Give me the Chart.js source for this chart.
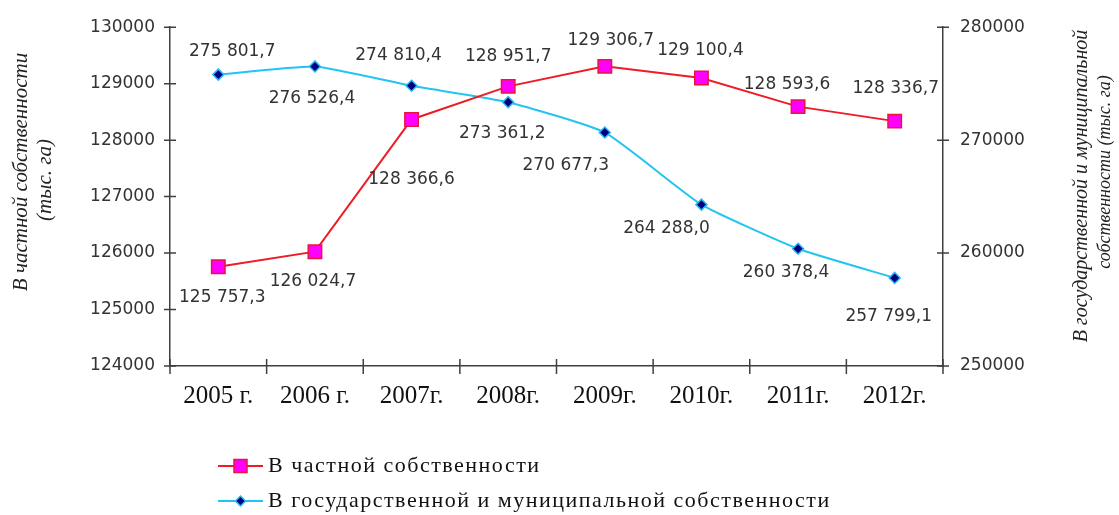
<!DOCTYPE html>
<html>
<head>
<meta charset="utf-8">
<script src="https://cdn.jsdelivr.net/npm/chart.js@4.4.1/dist/chart.umd.min.js"></script>
<style>
  html, body { margin: 0; padding: 0; background: #fff; }
  #wrap { width: 1119px; height: 515px; position: relative; }
  canvas { display: block; }
</style>
</head>
<body>
<div id="wrap"><canvas id="c" width="1119" height="515"></canvas></div>
<script>
// Land fund by form of ownership, thousand hectares
const years = ['2005 г.', '2006 г.', '2007г.', '2008г.', '2009г.', '2010г.', '2011г.', '2012г.'];
const privateLand = [125757.3, 126024.7, 128366.6, 128951.7, 129306.7, 129100.4, 128593.6, 128336.7];
const stateLand = [275801.7, 276526.4, 274810.4, 273361.2, 270677.3, 264288.0, 260378.4, 257799.1];
const seriesNames = ['В частной собственности', 'В государственной и муниципальной собственности'];
const leftTitle = ['В частной собственности', '(тыс. га)'];
const rightTitle = ['В государственной и муниципальной', 'собственности (тыс. га)'];
const leftRange = { min: 124000, max: 130000, step: 1000 };
const rightRange = { min: 250000, max: 280000, step: 10000 };

// where each value label sits relative to its point (dx, dy)
const privateLabelOffsets = [[4, 31], [-2, 30], [0, 60], [0, -30], [6, -26], [-1, -27], [-11, -22], [1, -33]];
const stateLabelOffsets = [[14, -23], [-3, 32], [-13, -30], [-6, 31], [-39, 33], [-35, 24], [-12, 24], [-6, 39]];

const RED = '#ee1c25', MAGENTA = '#ff00ff', CYAN = '#22c4f0', NAVY = '#000080';
const AXIS = '#404040', TEXT = '#333333';
const TICK_FONT = { family: 'DejaVu Sans', size: 17 };

function fmt(v) {
  const parts = v.toFixed(1).split('.');
  return parts[0].replace(/\B(?=(\d{3})+(?!\d))/g, ' ') + ',' + parts[1];
}

function rotatedText(ctx, text, x, y) {
  ctx.save();
  ctx.translate(x, y);
  ctx.rotate(-Math.PI / 2);
  ctx.fillText(text, 0, 0);
  ctx.restore();
}

const decorations = {
  id: 'decorations',
  afterDraw(chart) {
    const ctx = chart.ctx;
    const area = chart.chartArea;
    const xs = chart.scales.x, yl = chart.scales.y, yr = chart.scales.y2;
    ctx.save();

    // crossing tick marks
    ctx.strokeStyle = AXIS;
    ctx.lineWidth = 1.5;
    ctx.beginPath();
    yl.ticks.forEach((t, i) => {
      const y = yl.getPixelForTick(i);
      ctx.moveTo(area.left - 6, y); ctx.lineTo(area.left + 6, y);
    });
    yr.ticks.forEach((t, i) => {
      const y = yr.getPixelForTick(i);
      ctx.moveTo(area.right - 6, y); ctx.lineTo(area.right + 6, y);
    });
    const step = xs.getPixelForValue(1) - xs.getPixelForValue(0);
    for (let i = 0; i <= years.length; i++) {
      const x = xs.getPixelForValue(0) - step / 2 + i * step;
      ctx.moveTo(x, area.bottom - 7); ctx.lineTo(x, area.bottom + 8);
    }
    ctx.stroke();

    // value labels
    ctx.fillStyle = TEXT;
    ctx.font = '17px "DejaVu Sans"';
    ctx.textAlign = 'center';
    ctx.textBaseline = 'middle';
    const drawLabels = (dsIndex, values, offsets) => {
      const meta = chart.getDatasetMeta(dsIndex);
      meta.data.forEach((pt, i) => {
        ctx.fillText(fmt(values[i]), pt.x + offsets[i][0], pt.y + offsets[i][1]);
      });
    };
    drawLabels(0, privateLand, privateLabelOffsets);
    drawLabels(1, stateLand, stateLabelOffsets);

    // axis titles
    ctx.fillStyle = '#222';
    ctx.font = 'italic 21px "Liberation Serif"';
    rotatedText(ctx, leftTitle[0], 21, 172);
    rotatedText(ctx, leftTitle[1], 45, 180);
    ctx.font = 'italic 20px "Liberation Serif"';
    rotatedText(ctx, rightTitle[0], 1082, 186);
    ctx.font = 'italic 18px "Liberation Serif"';
    rotatedText(ctx, rightTitle[1], 1105, 172);

    // legend
    const rows = [466, 501];
    ctx.font = '22px "Liberation Serif"';
    ctx.letterSpacing = '1.5px';
    ctx.textAlign = 'left';
    rows.forEach((y, i) => {
      const ds = chart.data.datasets[i];
      ctx.strokeStyle = ds.borderColor;
      ctx.lineWidth = 2;
      ctx.beginPath(); ctx.moveTo(218, y); ctx.lineTo(263, y); ctx.stroke();
      ctx.fillStyle = ds.pointBackgroundColor;
      ctx.strokeStyle = ds.pointBorderColor;
      ctx.lineWidth = ds.pointBorderWidth;
      ctx.beginPath();
      if (i === 0) {
        ctx.rect(234, y - 6.5, 13, 13);
      } else {
        ctx.moveTo(240.5, y - 5); ctx.lineTo(245.5, y); ctx.lineTo(240.5, y + 5); ctx.lineTo(235.5, y); ctx.closePath();
      }
      ctx.fill(); ctx.stroke();
      ctx.fillStyle = '#111';
      ctx.fillText(seriesNames[i], 268, y);
    });
    ctx.restore();
  }
};

new Chart(document.getElementById('c'), {
  type: 'line',
  data: {
    labels: years,
    datasets: [
      {
        label: seriesNames[0],
        data: privateLand,
        yAxisID: 'y',
        borderColor: RED,
        borderWidth: 2,
        pointStyle: 'rect',
        pointRadius: 9.5,
        pointHoverRadius: 9.5,
        pointBackgroundColor: MAGENTA,
        pointBorderColor: '#e8173a',
        pointBorderWidth: 1.5,
        tension: 0
      },
      {
        label: seriesNames[1],
        data: stateLand,
        yAxisID: 'y2',
        borderColor: CYAN,
        borderWidth: 2,
        pointStyle: 'rectRot',
        pointRadius: 5.5,
        pointHoverRadius: 5.5,
        pointBackgroundColor: NAVY,
        pointBorderColor: '#29b8f0',
        pointBorderWidth: 1.5,
        tension: 0.15
      }
    ]
  },
  options: {
    responsive: false,
    maintainAspectRatio: false,
    animation: false,
    devicePixelRatio: 1,
    layout: { padding: { top: 23, left: 0, right: 0, bottom: 0 } },
    plugins: { legend: { display: false }, tooltip: { enabled: false } },
    scales: {
      x: {
        offset: true,
        grid: { display: false, offset: true, drawTicks: false },
        border: { color: AXIS, width: 1.5 },
        ticks: { color: '#111', font: { family: 'Liberation Serif', size: 25 }, padding: 15 },
        afterFit(s) { s.height = 149; }
      },
      y: {
        position: 'left',
        min: leftRange.min, max: leftRange.max,
        ticks: { stepSize: leftRange.step, color: TEXT, font: TICK_FONT, padding: 15, callback: v => String(v) },
        grid: { drawOnChartArea: false, drawTicks: false },
        border: { color: AXIS, width: 1.5 },
        afterFit(s) { s.width = 170; }
      },
      y2: {
        position: 'right',
        min: rightRange.min, max: rightRange.max,
        ticks: { stepSize: rightRange.step, color: TEXT, font: TICK_FONT, padding: 17, callback: v => String(v) },
        grid: { drawOnChartArea: false, drawTicks: false },
        border: { color: AXIS, width: 1.5 },
        afterFit(s) { s.width = 176; }
      }
    }
  },
  plugins: [decorations]
});
</script>
</body>
</html>
